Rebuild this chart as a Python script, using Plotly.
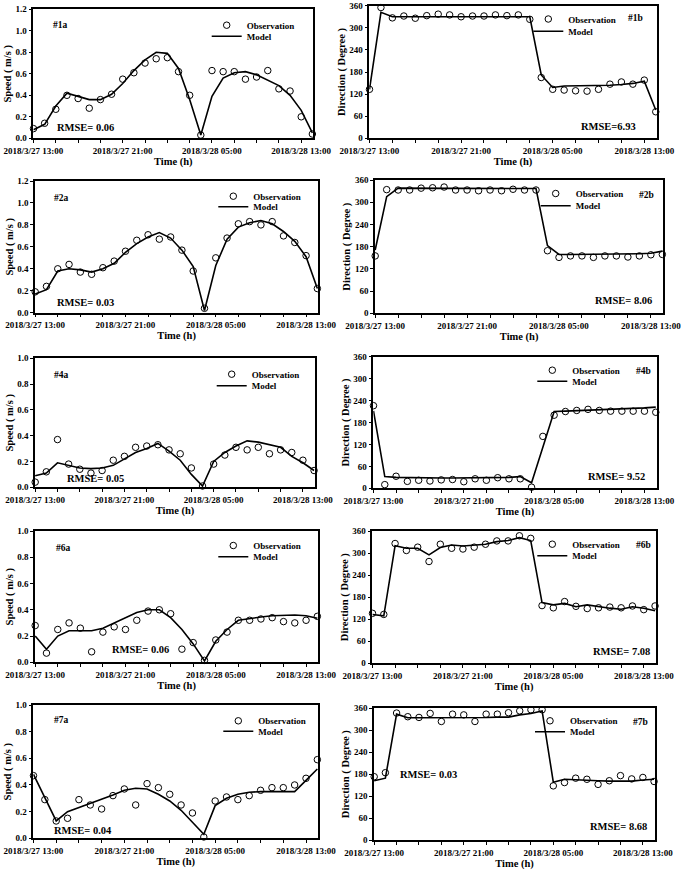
import pandas as pd
import plotly.graph_objects as go

FONT = "Liberation Serif"
W, H = 685, 870

times = pd.date_range("2018-03-27 13:00", periods=26, freq="h")
tick_vals = ["2018-03-27 13:00", "2018-03-27 21:00", "2018-03-28 05:00", "2018-03-28 13:00"]
tick_text = ["2018/3/27 13:00", "2018/3/27 21:00", "2018/3/28 05:00", "2018/3/28 13:00"]
speed_ticks_12 = [0.0, 0.2, 0.4, 0.6, 0.8, 1.0, 1.2]
speed_ticks_10 = [0.0, 0.2, 0.4, 0.6, 0.8, 1.0]
dir_ticks = [0, 60, 120, 180, 240, 300, 360]

obs_1a = [0.09, 0.14, 0.27, 0.40, 0.37, 0.28, 0.36, 0.41, 0.55, 0.61, 0.70, 0.74, 0.75, 0.62, 0.40, 0.03, 0.63, 0.62, 0.62, 0.55, 0.57, 0.63, 0.46, 0.44, 0.20, 0.04]
mod_1a = [0.08, 0.13, 0.30, 0.42, 0.39, 0.36, 0.36, 0.41, 0.51, 0.63, 0.73, 0.80, 0.79, 0.65, 0.36, 0.03, 0.39, 0.56, 0.61, 0.62, 0.59, 0.54, 0.49, 0.40, 0.26, 0.05]
obs_1b = [133, 355, 327, 332, 326, 333, 337, 335, 330, 332, 332, 335, 333, 335, 323, 165, 133, 131, 129, 128, 133, 147, 153, 147, 158, 72]
mod_1b = [133, 342, 330, 330, 330, 331, 331, 331, 331, 332, 332, 332, 332, 332, 330, 172, 138, 142, 142, 142, 142, 144, 146, 149, 155, 77]

obs_2a = [0.19, 0.24, 0.40, 0.44, 0.37, 0.35, 0.41, 0.47, 0.56, 0.66, 0.71, 0.67, 0.69, 0.57, 0.38, 0.04, 0.50, 0.68, 0.81, 0.83, 0.80, 0.83, 0.70, 0.64, 0.52, 0.22]
mod_2a = [0.17, 0.21, 0.38, 0.40, 0.39, 0.37, 0.40, 0.45, 0.55, 0.63, 0.69, 0.73, 0.68, 0.57, 0.42, 0.02, 0.43, 0.67, 0.78, 0.82, 0.84, 0.81, 0.74, 0.65, 0.51, 0.22]
obs_2b = [155, 334, 333, 333, 338, 339, 341, 333, 333, 331, 333, 331, 335, 333, 333, 169, 151, 155, 155, 151, 155, 155, 152, 155, 158, 159]
mod_2b = [171, 315, 338, 338, 338, 338, 338, 338, 338, 337, 337, 337, 337, 337, 337, 183, 159, 159, 159, 159, 160, 160, 160, 161, 162, 168]

obs_4a = [0.04, 0.12, 0.37, 0.18, 0.14, 0.11, 0.13, 0.21, 0.24, 0.31, 0.32, 0.33, 0.29, 0.26, 0.15, 0.01, 0.18, 0.25, 0.31, 0.29, 0.31, 0.26, 0.29, 0.27, 0.21, 0.13]
mod_4a = [0.09, 0.11, 0.19, 0.17, 0.15, 0.145, 0.15, 0.17, 0.22, 0.27, 0.30, 0.34, 0.28, 0.21, 0.10, 0.01, 0.20, 0.27, 0.32, 0.36, 0.35, 0.33, 0.31, 0.24, 0.19, 0.13]
obs_4b = [226, 10, 33, 19, 22, 20, 23, 24, 18, 26, 22, 29, 26, 26, 3, 142, 200, 210, 213, 216, 213, 211, 211, 211, 211, 208]
mod_4b = [212, 32, 30, 29, 28, 28, 28, 28, 28, 29, 29, 30, 30, 32, 15, 112, 210, 211, 212, 213, 214, 216, 218, 219, 220, 222]

obs_6a = [0.28, 0.07, 0.25, 0.30, 0.26, 0.08, 0.23, 0.27, 0.25, 0.32, 0.39, 0.40, 0.37, 0.10, 0.15, 0.015, 0.17, 0.23, 0.32, 0.32, 0.33, 0.34, 0.31, 0.30, 0.32, 0.35]
mod_6a = [0.20, 0.10, 0.20, 0.24, 0.24, 0.24, 0.26, 0.30, 0.345, 0.38, 0.40, 0.40, 0.34, 0.25, 0.14, 0.01, 0.16, 0.25, 0.32, 0.335, 0.345, 0.355, 0.36, 0.36, 0.355, 0.335]
obs_6b = [136, 133, 326, 307, 316, 277, 324, 313, 311, 316, 324, 333, 333, 347, 340, 157, 151, 168, 155, 149, 151, 153, 151, 156, 146, 156]
mod_6b = [133, 129, 320, 313, 313, 295, 315, 322, 319, 322, 324, 331, 334, 342, 334, 165, 159, 163, 154, 159, 154, 150, 147, 154, 150, 143]

obs_7a = [0.47, 0.29, 0.13, 0.15, 0.29, 0.25, 0.22, 0.32, 0.37, 0.25, 0.41, 0.38, 0.33, 0.25, 0.19, 0.01, 0.28, 0.31, 0.29, 0.32, 0.36, 0.38, 0.38, 0.40, 0.45, 0.59]
mod_7a = [0.48, 0.31, 0.13, 0.20, 0.23, 0.26, 0.29, 0.325, 0.36, 0.375, 0.37, 0.33, 0.28, 0.21, 0.12, 0.03, 0.245, 0.30, 0.33, 0.345, 0.35, 0.35, 0.35, 0.35, 0.435, 0.52]
obs_7b = [173, 184, 347, 337, 335, 346, 324, 344, 342, 324, 344, 344, 348, 353, 356, 356, 148, 157, 169, 166, 152, 162, 176, 167, 171, 160]
mod_7b = [162, 169, 344, 334, 334, 334, 334, 334, 333, 334, 335, 336, 336, 342, 346, 353, 158, 166, 164, 162, 162, 161, 160, 161, 164, 166]

# layout spec per panel, in pixels (box: x0, x1, ytop, ybottom)
panels = [
    dict(obs=obs_1a, mod=mod_1a, ymax=1.2, box=(33.3, 313.3, 9.3, 138.3), label="#1a", lab=(60, 25),
         rmse=[("RMSE= 0.06", 85, 127.3)], leg=(251.7, 26.7, 37.7)),
    dict(obs=obs_1b, mod=mod_1b, ymax=360, box=(369.3, 656.7, 5.7, 138.3), label="#1b", lab=(635, 18.3),
         rmse=[("RMSE=6.93", 608.3, 126)], leg=(573.3, 20.5, 32.7)),
    dict(obs=obs_2a, mod=mod_2a, ymax=1.2, box=(35, 318.3, 181, 312.7), label="#2a", lab=(61.7, 198.3),
         rmse=[("RMSE= 0.03", 85, 302.7)], leg=(258.3, 197.7, 208.3)),
    dict(obs=obs_2b, mod=mod_2b, ymax=360, box=(375, 663.3, 180, 313.3), label="#2b", lab=(646.7, 195),
         rmse=[("RMSE= 8.06", 623.3, 300)], leg=(580.7, 195, 207.3)),
    dict(obs=obs_4a, mod=mod_4a, ymax=1.0, box=(35, 315, 358.3, 487.3), label="#4a", lab=(61.7, 375),
         rmse=[("RMSE= 0.05", 95, 478.3)], leg=(256.7, 375.7, 387.3)),
    dict(obs=obs_4b, mod=mod_4b, ymax=360, box=(373.3, 656.7, 356.7, 488.3), label="#4b", lab=(643.3, 370.7),
         rmse=[("RMSE= 9.52", 616.7, 476.7)], leg=(577.3, 371.7, 382.7)),
    dict(obs=obs_6a, mod=mod_6a, ymax=1.0, box=(35, 318.3, 531, 662.3), label="#6a", lab=(63.3, 547.7),
         rmse=[("RMSE= 0.06", 140, 649)], leg=(258.3, 547, 558.3)),
    dict(obs=obs_6b, mod=mod_6b, ymax=360, box=(372.3, 656, 531, 663.3), label="#6b", lab=(643.3, 545),
         rmse=[("RMSE= 7.08", 621.7, 651)], leg=(577.3, 545.7, 557.3)),
    dict(obs=obs_7a, mod=mod_7a, ymax=1.0, box=(33.3, 318.3, 705, 838.3), label="#7a", lab=(61.7, 720),
         rmse=[("RMSE= 0.04", 82.7, 830)], leg=(263.3, 722.3, 732.7)),
    dict(obs=obs_7b, mod=mod_7b, ymax=360, box=(374, 655, 708.3, 840), label="#7b", lab=(640, 722.3),
         rmse=[("RMSE= 0.03", 428.3, 774.3), ("RMSE= 8.68", 618.3, 826)], leg=(575, 722.3, 733.3)),
]

fig = go.Figure()
annotations = []
layout_extra = {}

def clamp(v):
    return min(1.0, max(0.0, v))

def px(x):
    return clamp(x / W)

def py(y):
    return clamp(1 - y / H)

for i, p in enumerate(panels, start=1):
    sfx = "" if i == 1 else str(i)
    lg_obs = "legend" if i == 1 else f"legend{2 * i - 1}"
    lg_mod = f"legend{2 * i}"
    fig.add_trace(go.Scatter(
        x=times, y=p["obs"], mode="markers", name="Observation",
        marker=dict(symbol="circle-open", size=6.5, color="black", line=dict(width=1, color="black")),
        xaxis="x" + sfx, yaxis="y" + sfx, legend=lg_obs, cliponaxis=False))
    fig.add_trace(go.Scatter(
        x=times, y=p["mod"], mode="lines", name="Model",
        line=dict(color="black", width=1.6),
        xaxis="x" + sfx, yaxis="y" + sfx, legend=lg_mod, cliponaxis=False))

    x0, x1, yt, yb = p["box"]
    is_speed = p["ymax"] <= 1.2
    if is_speed:
        yticks = speed_ticks_12 if p["ymax"] > 1.0 else speed_ticks_10
    else:
        yticks = dir_ticks
    layout_extra["xaxis" + sfx] = dict(
        domain=[px(x0), px(x1)], anchor="y" + sfx, type="date", automargin=False,
        range=["2018-03-27 12:59", "2018-03-28 14:05"],
        tickvals=tick_vals, ticktext=tick_text, ticks="outside", ticklen=3, tickwidth=1,
        tickcolor="black", tickangle=0, ticklabeloverflow="allow",
        minor=dict(tick0="2018-03-27 13:00", dtick=7200000, ticks="outside", ticklen=3,
                   tickwidth=1, tickcolor="black", showgrid=False),
        showline=True, linecolor="black", linewidth=1.5, mirror=True, showgrid=False, zeroline=False,
        tickfont=dict(size=9),
        title=dict(text="Time (h)", font=dict(size=10.5), standoff=1),
    )
    layout_extra["yaxis" + sfx] = dict(
        domain=[py(yb), py(yt)], anchor="x" + sfx, automargin=False,
        range=[0, p["ymax"]], tickmode="array", tickvals=yticks,
        tickformat=".1f" if is_speed else "d", ticklabeloverflow="allow",
        ticks="outside", ticklen=3, tickwidth=1, tickcolor="black",
        showline=True, linecolor="black", linewidth=1.5, mirror=True, showgrid=False, zeroline=False,
        tickfont=dict(size=9),
        title=dict(text="Speed ( m/s )" if is_speed else "Direction ( Degree )", font=dict(size=10.5), standoff=2),
    )
    text_x, obs_y, mod_y = p["leg"]
    for name, yy in ((lg_obs, obs_y - 1.5), (lg_mod, mod_y - 1.5)):
        layout_extra[name] = dict(
            x=px(text_x - 45), y=py(yy), xanchor="left", yanchor="middle",
            xref="paper", yref="paper", bgcolor="rgba(0,0,0,0)", borderwidth=0,
            font=dict(size=9, family=FONT, color="black", weight="bold"), itemwidth=30,
        )
    annotations.append(dict(text=p["label"], x=px(p["lab"][0]), y=py(p["lab"][1]), xref="paper",
                            yref="paper", showarrow=False, xanchor="center", yanchor="middle",
                            font=dict(size=9.5)))
    for txt, rx, ry in p["rmse"]:
        annotations.append(dict(text=txt, x=px(rx), y=py(ry), xref="paper", yref="paper",
                                showarrow=False, xanchor="center", yanchor="middle",
                                font=dict(size=10.5)))

fig.update_layout(
    width=W, height=H, margin=dict(l=0, r=0, t=0, b=0),
    paper_bgcolor="white", plot_bgcolor="white",
    font=dict(family=FONT, size=9, color="black", weight="bold"),
    showlegend=True, annotations=annotations, **layout_extra,
)

# the page's default 8px body margin would shift the 685x870 figure; remove it
fig.write_html("out.html", config={"displayModeBar": False},
               post_script="document.body.style.margin='0px';")
